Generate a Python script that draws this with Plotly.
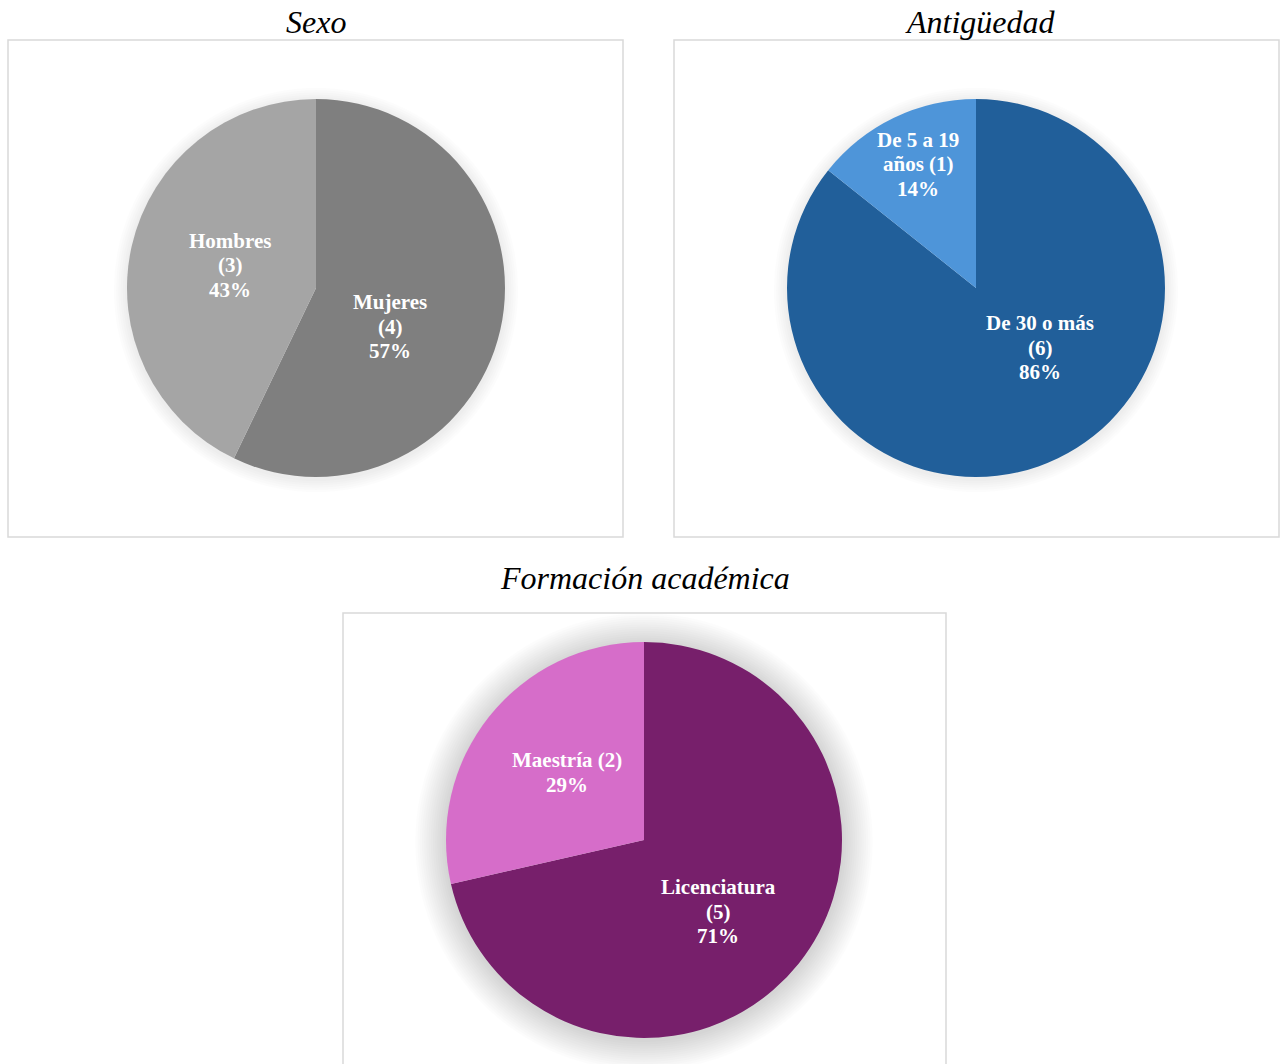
import plotly.graph_objects as go

W, H = 1282, 1064

# Data
sexo_labels = ["Mujeres", "Hombres"]
sexo_lines = [["Mujeres", "(4)"], ["Hombres", "(3)"]]
sexo_values = [4, 3]
sexo_colors = ["#7f7f7f", "#a5a5a5"]

antig_labels = ["De 30 o más", "De 5 a 19 años"]
antig_lines = [["De 30 o más", "(6)"], ["De 5 a 19", "años (1)"]]
antig_values = [6, 1]
antig_colors = ["#215f9a", "#4e95d9"]

form_labels = ["Licenciatura", "Maestría"]
form_lines = [["Licenciatura", "(5)"], ["Maestría (2)"]]
form_values = [5, 2]
form_colors = ["#771f6b", "#d66dc9"]

titles = ["Sexo", "Antigüedad", "Formación académica"]

# Layout (pixel geometry): pie centre/radius and label anchor (first line) per slice
pie_geom = [(316, 288, 189), (976, 288, 189), (644, 840, 198)]
label_pos = [[(390, 302), (230, 241)], [(1040, 323), (918, 140)], [(718, 887), (567, 760)]]
LINE_H = 24.5

SERIF = "Liberation Serif, Times New Roman, serif"


def px_x(v):
    return v / W


def px_y(v):
    return 1 - v / H


def dom(cx, cy, r):
    return dict(x=[px_x(cx - r), px_x(cx + r)], y=[px_y(cy + r), px_y(cy - r)])


fig = go.Figure()
annotations = []

datasets = [
    (sexo_labels, sexo_lines, sexo_values, sexo_colors),
    (antig_labels, antig_lines, antig_values, antig_colors),
    (form_labels, form_lines, form_values, form_colors),
]

for (labels, lines, values, colors), (cx, cy, r), lpos in zip(datasets, pie_geom, label_pos):
    fig.add_trace(go.Pie(
        labels=labels, values=values,
        textinfo="none",
        sort=False, direction="clockwise", rotation=0,
        marker=dict(colors=colors, line=dict(width=0)),
        domain=dom(cx, cy, r),
        showlegend=False, hoverinfo="label+value+percent",
    ))
    total = sum(values)
    for ln, v, (x, y) in zip(lines, values, lpos):
        all_lines = ln + [f"{round(100 * v / total)}%"]
        for i, t in enumerate(all_lines):
            annotations.append(dict(
                text=f"<b>{t}</b>", xref="paper", yref="paper",
                x=px_x(x), y=px_y(y + i * LINE_H), xanchor="center", yanchor="middle",
                showarrow=False,
                font=dict(family=SERIF, size=21, color="white")))

# Soft shadows behind pies
shapes = []
for (cx, cy, r), (n, a) in zip(pie_geom, [(6, 0.012), (6, 0.012), (14, 0.013)]):
    for i in range(n, 0, -1):
        rr = r + i * 2.2
        shapes.append(dict(type="circle", xref="paper", yref="paper",
                           x0=px_x(cx - rr), x1=px_x(cx + rr),
                           y0=px_y(cy + rr + 2), y1=px_y(cy - rr + 2),
                           fillcolor=f"rgba(0,0,0,{a})", line=dict(width=0), layer="below"))

# Frames
for (x0, y0, x1, y1) in [(8, 40, 623, 537), (674, 40, 1279, 537), (343, 613, 946, 1070)]:
    shapes.append(dict(type="rect", xref="paper", yref="paper",
                       x0=px_x(x0), x1=px_x(x1), y0=px_y(y1), y1=px_y(y0),
                       line=dict(color="#d9d9d9", width=1.5), fillcolor="rgba(0,0,0,0)", layer="below"))

for t, (x, y) in zip(titles, [(316, 22), (980, 22), (645, 578)]):
    annotations.append(dict(text=t, xref="paper", yref="paper", x=px_x(x), y=px_y(y),
                            xanchor="center", yanchor="middle", showarrow=False,
                            font=dict(family=SERIF, size=32, color="black", style="italic")))

fig.update_layout(width=W, height=H, margin=dict(l=0, r=0, t=0, b=0),
                  paper_bgcolor="white", plot_bgcolor="white",
                  shapes=shapes, annotations=annotations)

fig.write_html("out.html")
